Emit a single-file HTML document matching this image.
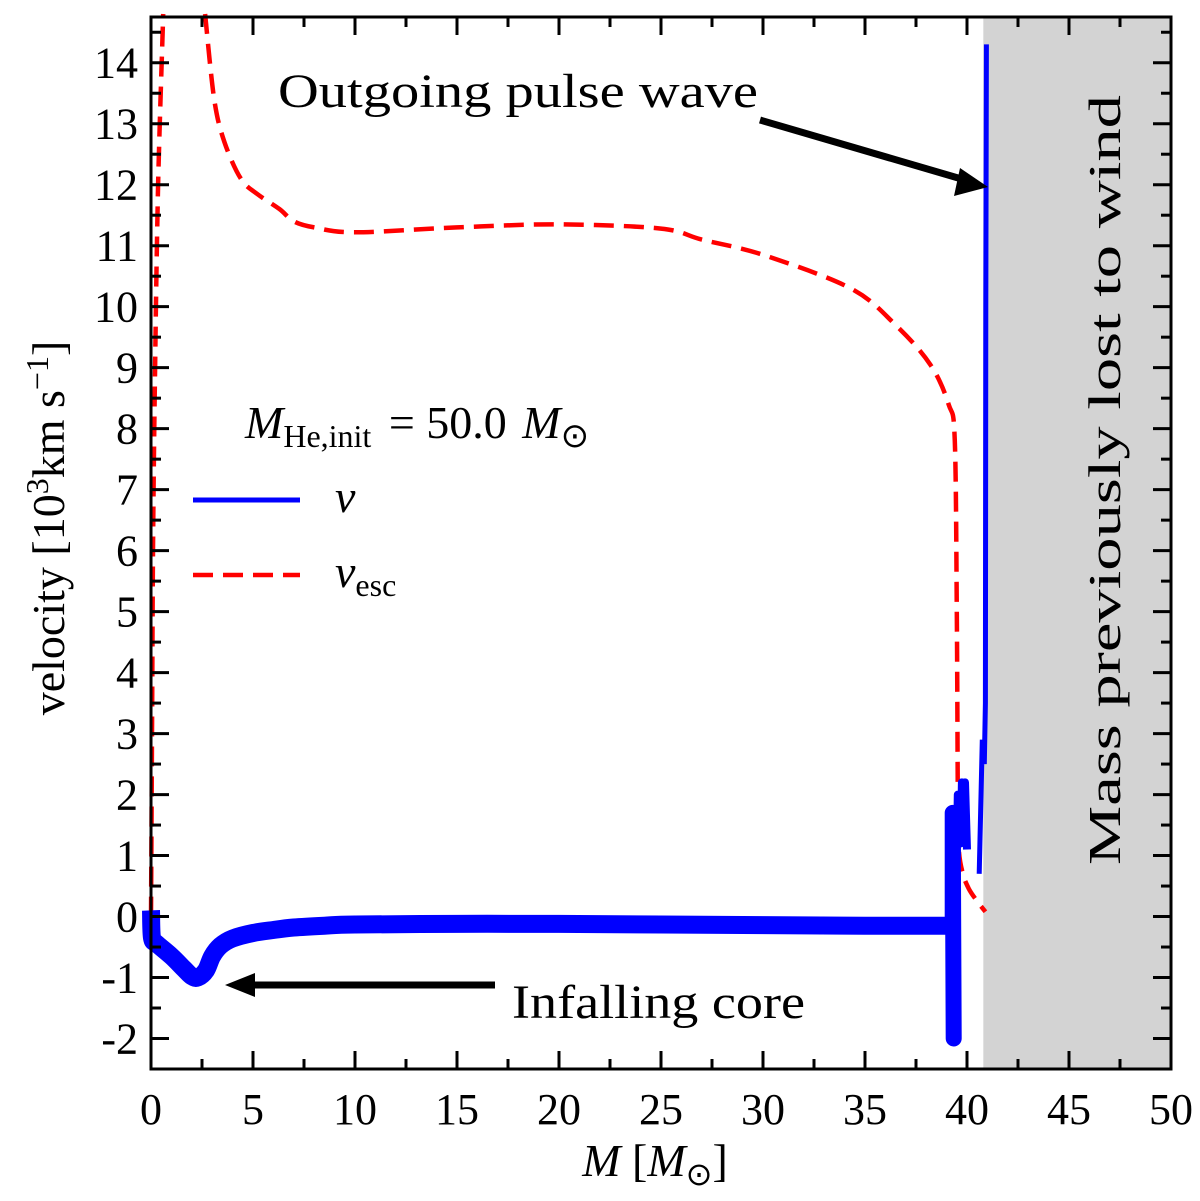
<!DOCTYPE html>
<html><head><meta charset="utf-8"><style>
body{margin:0;background:#fff}
svg text{font-family:"Liberation Serif",serif;fill:#000}
</style></head><body>
<svg id="chart" width="1200" height="1196" xmlns="http://www.w3.org/2000/svg">
<g id="plot"></g>
</svg>
<script>
const xTicks=[0,5,10,15,20,25,30,35,40,45,50];
const yTicks=[-2,-1,0,1,2,3,4,5,6,7,8,9,10,11,12,13,14];
const vCoreM=[0,0.05,0.3,1,1.6,2,2.3,2.7,3.0,3.4,4,5,6,7,8.5,10,15,20,30,35,39.2];
const vCoreV=[0.1,-0.35,-0.45,-0.65,-0.85,-0.98,-1.0,-0.88,-0.65,-0.48,-0.36,-0.27,-0.22,-0.18,-0.15,-0.13,-0.12,-0.12,-0.14,-0.15,-0.15];
const vSpikeM=[39.3,39.3,39.35];
const vSpikeV=[-0.15,1.7,-2.0];
const vSpike2M=[39.5,39.55,39.7,39.75,39.85,39.9,40.0];
const vSpike2V=[1.0,2.0,1.2,2.2,1.3,2.2,1.1];
const vPulseM=[40.6,40.75,40.85,40.9,40.92,40.95];
const vPulseV=[0.7,2.9,2.5,3.5,10,14.3];
const escLM=[0,0.05,0.1,0.2,0.35,0.6];
const escLV=[0,3,6,9,12,14.8];
const escRM=[2.65,3.1,3.6,4.4,5.2,6.3,7,8,10,15,20,25,27,30,34.3,36.5,38.2,39.1,39.4,39.5,39.55,39.6,39.8,40.1,40.5,40.9];
const escRV=[14.8,13.4,12.7,12.1,11.85,11.6,11.4,11.3,11.22,11.3,11.35,11.28,11.1,10.85,10.3,9.7,9.05,8.4,7.8,5,2,1.1,0.7,0.45,0.25,0.08];
const L=151,R=1171,T=17,B=1069,XMIN=0,XMAX=50,YMIN=-2.5,YMAX=14.75;
const X=m=>L+(m-XMIN)/(XMAX-XMIN)*(R-L);
const Y=v=>B-(v-YMIN)/(YMAX-YMIN)*(B-T);
const NS="http://www.w3.org/2000/svg";
const g=document.getElementById('plot');
function mk(t,a,txt){const e=document.createElementNS(NS,t);for(const k in a)e.setAttribute(k,a[k]);if(txt!==undefined)e.textContent=txt;g.appendChild(e);return e;}
function pts(ms,vs){return ms.map((m,i)=>X(m).toFixed(1)+','+Y(vs[i]).toFixed(1)).join(' ');}
function smooth(ms,vs){const p=ms.map((m,i)=>[X(m),Y(vs[i])]);let d='M'+p[0][0].toFixed(1)+','+p[0][1].toFixed(1);
 for(let i=0;i<p.length-1;i++){const p0=p[Math.max(0,i-1)],p1=p[i],p2=p[i+1],p3=p[Math.min(p.length-1,i+2)];
  const c1=[p1[0]+(p2[0]-p0[0])/6,p1[1]+(p2[1]-p0[1])/6],c2=[p2[0]-(p3[0]-p1[0])/6,p2[1]-(p3[1]-p1[1])/6];
  d+=' C'+c1.map(v=>v.toFixed(1)).join(',')+' '+c2.map(v=>v.toFixed(1)).join(',')+' '+p2[0].toFixed(1)+','+p2[1].toFixed(1);}
 return d;}
let e;
e=mk('rect',{x:X(40.8),y:T,width:R-X(40.8),height:B-T,fill:'#d3d3d3'});


e=mk('text',{x:0,y:0,'font-size':46,'text-anchor':'middle',textLength:770,lengthAdjust:'spacingAndGlyphs',transform:`translate(1120,480) rotate(-90)`},'Mass previously lost to wind');


e=mk('path',{d:smooth(escLM,escLV),fill:'none',stroke:'#ff0000','stroke-width':4.5,'stroke-dasharray':'20,10'});


e=mk('path',{d:smooth(escRM,escRV),fill:'none',stroke:'#ff0000','stroke-width':4.5,'stroke-dasharray':'20,10'});


e=mk('path',{d:smooth(vCoreM,vCoreV),fill:'none',stroke:'#0000ff','stroke-width':18,'stroke-linejoin':'round','stroke-linecap':'butt'});


e=mk('polyline',{points:pts(vSpikeM,vSpikeV),fill:'none',stroke:'#0000ff','stroke-width':16,'stroke-linejoin':'round','stroke-linecap':'round'});


e=mk('polyline',{points:pts(vSpike2M,vSpike2V),fill:'none',stroke:'#0000ff','stroke-width':8,'stroke-linejoin':'round'});


e=mk('polyline',{points:pts(vPulseM,vPulseV),fill:'none',stroke:'#0000ff','stroke-width':5});


for(let m=0;m<=50;m+=2.5){const maj=m%5===0,len=maj?18:10;
 e=mk('line',{x1:X(m),x2:X(m),y1:B,y2:B-len,stroke:'#000','stroke-width':3});
 
 
 e=mk('line',{x1:X(m),x2:X(m),y1:T,y2:T+len,stroke:'#000','stroke-width':3});
 
 }
for(let v=-2.5;v<=14.5;v+=0.5){const maj=Number.isInteger(v),len=maj?18:10;
 e=mk('line',{x1:L,x2:L+len,y1:Y(v),y2:Y(v),stroke:'#000','stroke-width':3});
 
 
 e=mk('line',{x1:R,x2:R-len,y1:Y(v),y2:Y(v),stroke:'#000','stroke-width':3});
 
 }
xTicks.forEach(t=>{e=mk('text',{x:X(t),y:1124,'font-size':44,'text-anchor':'middle'},String(t));
 
 });
yTicks.forEach(t=>{e=mk('text',{x:138,y:Y(t)+15,'font-size':44,'text-anchor':'end'},String(t));
 
 });
e=mk('rect',{x:L,y:T,width:R-L,height:B-T,fill:'none',stroke:'#000','stroke-width':3});


e=mk('text',{x:655,y:1176,'font-size':46,'text-anchor':'middle'});
e.innerHTML='<tspan font-style="italic">M</tspan> [<tspan font-style="italic">M</tspan><tspan font-size="32" dy="9">⊙</tspan><tspan dy="-9">]</tspan>';


e=mk('text',{x:0,y:0,'font-size':46,'text-anchor':'middle',transform:'translate(64,528) rotate(-90)'});
e.innerHTML='velocity [10<tspan font-size="32" dy="-16">3</tspan><tspan dy="16">km s</tspan><tspan font-size="32" dy="-16">−1</tspan><tspan dy="16">]</tspan>';


e=mk('text',{x:278,y:107,'font-size':48,textLength:480,lengthAdjust:'spacingAndGlyphs'},'Outgoing pulse wave');


e=mk('line',{x1:760,y1:120,x2:965,y2:180,stroke:'#000','stroke-width':7});


e=mk('polygon',{points:'988,187 960,168 954,196',fill:'#000'});


e=mk('text',{x:512,y:1018,'font-size':48,textLength:293,lengthAdjust:'spacingAndGlyphs'},'Infalling core');


e=mk('line',{x1:495,y1:985,x2:250,y2:985,stroke:'#000','stroke-width':7});


e=mk('polygon',{points:'225,985 255,973 255,997',fill:'#000'});


e=mk('text',{x:245,y:438,'font-size':46});
e.innerHTML='<tspan font-style="italic">M</tspan><tspan font-size="32" dy="9">He,init</tspan><tspan dy="-9" dx="6"> = 50.0 </tspan><tspan font-style="italic" dx="4">M</tspan><tspan font-size="34" dy="9">⊙</tspan>';


e=mk('line',{x1:193,x2:300,y1:500,y2:500,stroke:'#0000ff','stroke-width':5});


e=mk('text',{x:335,y:512,'font-size':46,'font-style':'italic'},'v');


e=mk('line',{x1:193,x2:300,y1:575,y2:575,stroke:'#ff0000','stroke-width':4.5,'stroke-dasharray':'20,10'});


e=mk('text',{x:335,y:587,'font-size':46});
e.innerHTML='<tspan font-style="italic">v</tspan><tspan font-size="32" dy="9">esc</tspan>';


</script>
</body></html>
